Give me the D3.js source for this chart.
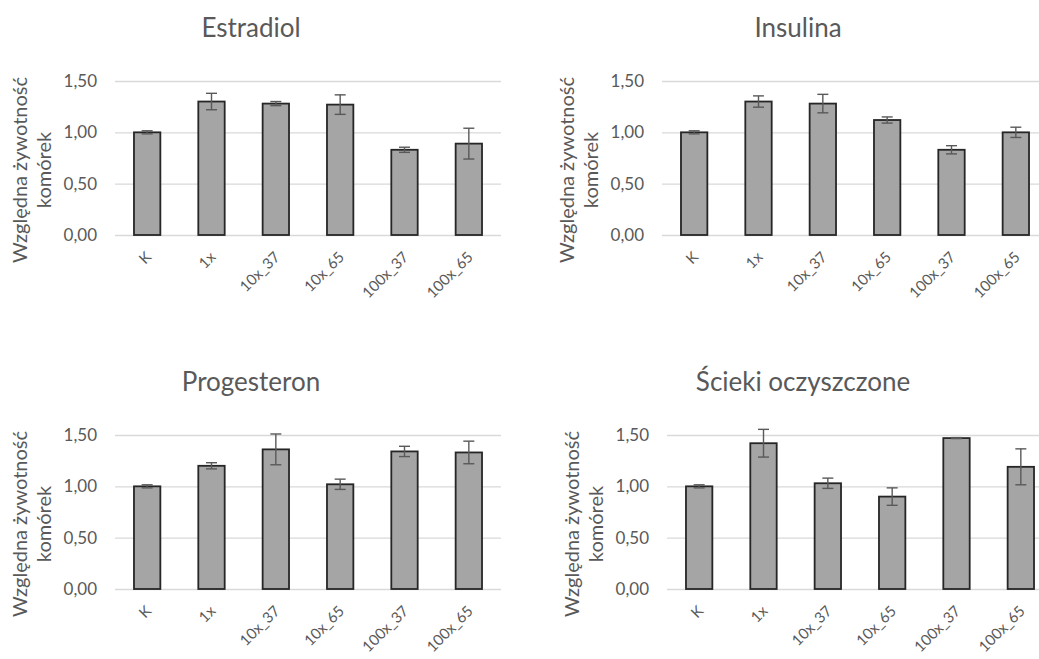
<!DOCTYPE html>
<html lang="pl">
<head>
<meta charset="utf-8">
<script src="https://cdn.jsdelivr.net/npm/d3@7"></script>
<style>
  html, body { margin: 0; padding: 0; background: #ffffff; }
  svg { display: block; }
  text { font-family: Lato, "Open Sans", "Liberation Sans", sans-serif; fill: #595959; }
</style>
</head>
<body>
<svg id="chart" width="1039" height="659"></svg>
<script>
// Categories shared by all four panels
const categories = ["K", "1x", "10x_37", "10x_65", "100x_37", "100x_65"];

// Y axis ticks and their Polish-format labels
const yTicks = [0, 0.5, 1.0, 1.5];
const yTickLabels = ["0,00", "0,50", "1,00", "1,50"];

// Relative viability (mean) and error (±) per panel
const estradiolValues = [1.00, 1.30, 1.28, 1.27, 0.83, 0.89];
const estradiolErrors = [0.015, 0.08, 0.02, 0.095, 0.025, 0.15];

const insulinaValues = [1.00, 1.30, 1.28, 1.12, 0.83, 1.00];
const insulinaErrors = [0.015, 0.055, 0.09, 0.03, 0.04, 0.05];

const progesteronValues = [1.00, 1.20, 1.36, 1.02, 1.34, 1.33];
const progesteronErrors = [0.015, 0.03, 0.15, 0.05, 0.05, 0.11];

const sciekiValues = [1.00, 1.42, 1.03, 0.90, 1.47, 1.19];
const sciekiErrors = [0.015, 0.135, 0.05, 0.085, 0.005, 0.175];

const panelTitles = ["Estradiol", "Insulina", "Progesteron", "Ścieki oczyszczone"];
const yAxisTitle = ["Względna żywotność", "komórek"];

// Layout of each panel: left edge of chart area and top of plot area
const panels = [
  { title: panelTitles[0], values: estradiolValues,   errors: estradiolErrors,   left: 0,   top: 81 },
  { title: panelTitles[1], values: insulinaValues,    errors: insulinaErrors,    left: 547, top: 81 },
  { title: panelTitles[2], values: progesteronValues, errors: progesteronErrors, left: 0,   top: 435 },
  { title: panelTitles[3], values: sciekiValues,      errors: sciekiErrors,      left: 552, top: 435 }
];

const plotOffset = 115;   // from chart-area left to plot-area left
const plotW = 386;
const plotH = 154;

const svg = d3.select("#chart");

const x = d3.scaleBand()
  .domain(categories)
  .range([0, plotW])
  .paddingInner(0.59)
  .paddingOuter(0.295);

const y = d3.scaleLinear()
  .domain([0, 1.5])
  .range([plotH, 0]);

panels.forEach(p => {
  const chart = svg.append("g").attr("transform", `translate(${p.left},0)`);

  // Title
  chart.append("text")
    .attr("x", 251)
    .attr("y", p.top - 44)
    .attr("text-anchor", "middle")
    .style("font-size", "26px")
    .text(p.title);

  // Y axis title (two rotated lines)
  const yt = chart.append("text")
    .attr("transform", `translate(0,${p.top + 89}) rotate(-90)`)
    .attr("text-anchor", "middle")
    .style("font-size", "20px");
  yt.append("tspan").attr("x", 0).attr("y", 27).text(yAxisTitle[0]);
  yt.append("tspan").attr("x", 0).attr("y", 51).text(yAxisTitle[1]);

  const g = chart.append("g").attr("transform", `translate(${plotOffset},${p.top})`);

  // Horizontal gridlines
  g.append("g")
    .attr("class", "grid")
    .call(d3.axisLeft(y).tickValues(yTicks).tickSize(-plotW).tickFormat(""))
    .call(s => s.select(".domain").remove())
    .call(s => s.selectAll("line").attr("stroke", "#d9d9d9").attr("stroke-width", 1.3));

  // Y tick labels
  g.append("g")
    .call(d3.axisLeft(y).tickValues(yTicks).tickSize(0).tickPadding(18)
      .tickFormat((d, i) => yTickLabels[i]))
    .call(s => s.select(".domain").remove())
    .call(s => s.selectAll("text").style("font-size", "17px").attr("fill", "#595959"));

  // X tick labels, rotated
  g.append("g")
    .attr("transform", `translate(0,${plotH})`)
    .call(d3.axisBottom(x).tickSize(0).tickPadding(0))
    .call(s => s.select(".domain").remove())
    .call(s => s.selectAll("text")
      .style("font-size", "15px")
      .attr("fill", "#595959")
      .attr("text-anchor", "end")
      .attr("dy", 0)
      .attr("transform", "translate(5,23) rotate(-45)"));

  const data = categories.map((c, i) => ({ c, v: p.values[i], e: p.errors[i] }));

  // Bars
  g.selectAll("rect.bar")
    .data(data)
    .join("rect")
    .attr("class", "bar")
    .attr("x", d => x(d.c))
    .attr("y", d => y(d.v))
    .attr("width", x.bandwidth())
    .attr("height", d => y(0) - y(d.v))
    .attr("fill", "#a5a5a5")
    .attr("stroke", "#262626")
    .attr("stroke-width", 1.8);

  // Error bars
  const capHalf = 5.5;
  const eb = g.selectAll("g.err")
    .data(data)
    .join("g")
    .attr("class", "err")
    .attr("stroke", "#595959")
    .attr("stroke-width", 1.4);
  eb.append("line")
    .attr("x1", d => x(d.c) + x.bandwidth() / 2)
    .attr("x2", d => x(d.c) + x.bandwidth() / 2)
    .attr("y1", d => y(d.v + d.e))
    .attr("y2", d => y(d.v - d.e));
  eb.append("line")
    .attr("x1", d => x(d.c) + x.bandwidth() / 2 - capHalf)
    .attr("x2", d => x(d.c) + x.bandwidth() / 2 + capHalf)
    .attr("y1", d => y(d.v + d.e))
    .attr("y2", d => y(d.v + d.e));
  eb.append("line")
    .attr("x1", d => x(d.c) + x.bandwidth() / 2 - capHalf)
    .attr("x2", d => x(d.c) + x.bandwidth() / 2 + capHalf)
    .attr("y1", d => y(d.v - d.e))
    .attr("y2", d => y(d.v - d.e));
});
</script>
</body>
</html>
